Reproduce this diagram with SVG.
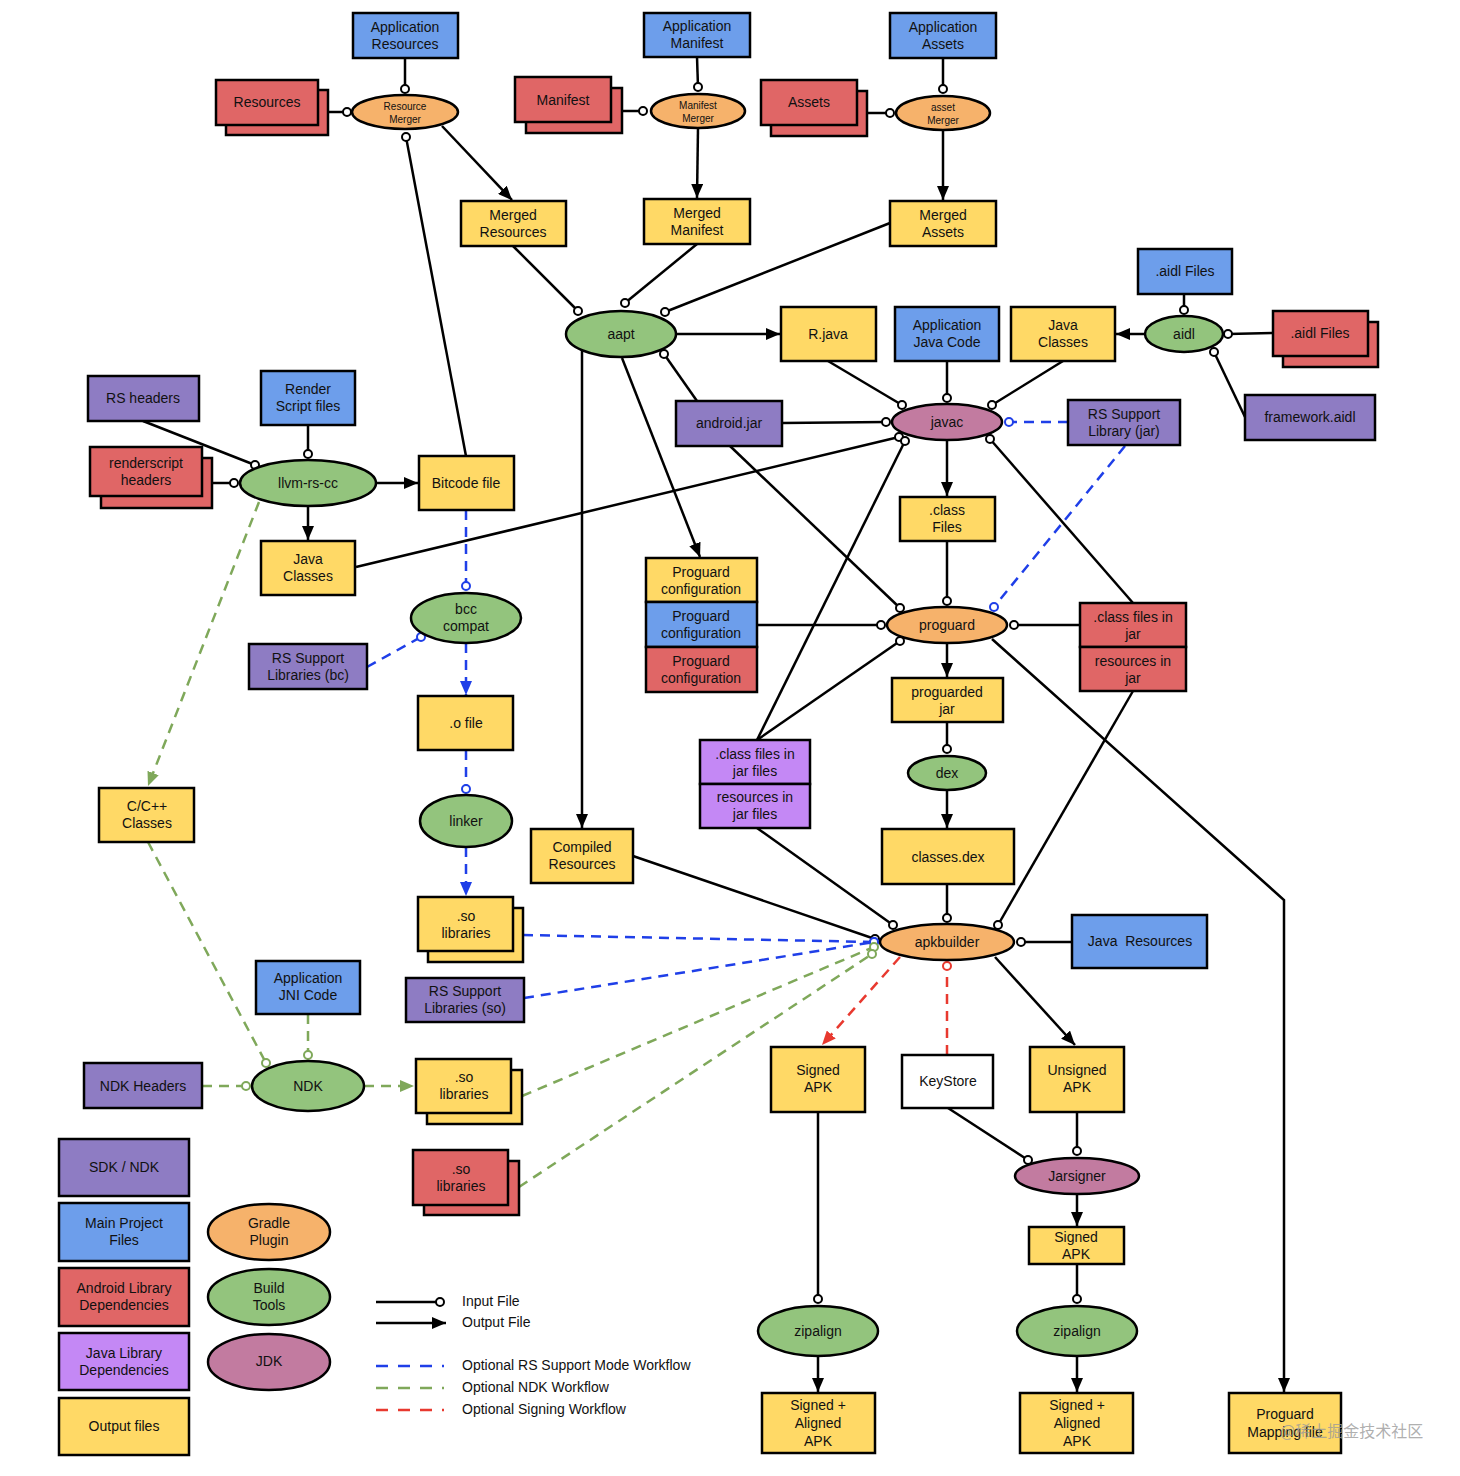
<svg xmlns="http://www.w3.org/2000/svg" width="1460" height="1476" viewBox="0 0 1460 1476">
<style>
.n{stroke:#000;stroke-width:2.5}
.blue{fill:#6d9eeb}.red{fill:#e06666}.yel{fill:#ffd966}.pur{fill:#8e7cc3}.lpur{fill:#c488f5}
.org{fill:#f6b26b}.grn{fill:#93c47d}.pink{fill:#c27ba0}.wht{fill:#fff}
text{font-family:"Liberation Sans",Arial,sans-serif;font-size:14px;text-anchor:middle;dominant-baseline:central;fill:#111}
.sm{font-size:10px}
.lg{text-anchor:start}
.c{fill:none;stroke:#000;stroke-width:2.5}
.db{fill:none;stroke:#1f3fe8;stroke-width:2.5;stroke-dasharray:10 7}
.dg{fill:none;stroke:#7fa85a;stroke-width:2.5;stroke-dasharray:10 7}
.dr{fill:none;stroke:#e8392f;stroke-width:2.5;stroke-dasharray:10 7}
.wm{font-family:"Noto Sans CJK SC",sans-serif;font-size:16px;text-anchor:start;fill:#9a9a9a;fill-opacity:0.8}
</style>
<defs>
<marker id="ak" viewBox="0 0 14 12" refX="14" refY="6" markerWidth="14" markerHeight="12" markerUnits="userSpaceOnUse" orient="auto"><path d="M0,0L14,6L0,12z" fill="#000"/></marker>
<marker id="ab" viewBox="0 0 14 12" refX="14" refY="6" markerWidth="14" markerHeight="12" markerUnits="userSpaceOnUse" orient="auto"><path d="M0,0L14,6L0,12z" fill="#1f3fe8"/></marker>
<marker id="ag" viewBox="0 0 14 12" refX="14" refY="6" markerWidth="14" markerHeight="12" markerUnits="userSpaceOnUse" orient="auto"><path d="M0,0L14,6L0,12z" fill="#7fa85a"/></marker>
<marker id="ar" viewBox="0 0 14 12" refX="14" refY="6" markerWidth="14" markerHeight="12" markerUnits="userSpaceOnUse" orient="auto"><path d="M0,0L14,6L0,12z" fill="#e8392f"/></marker>
<marker id="ok" viewBox="0 0 12 12" refX="6" refY="6" markerWidth="12" markerHeight="12" markerUnits="userSpaceOnUse"><circle cx="6" cy="6" r="4" fill="#fff" stroke="#000" stroke-width="2"/></marker>
<marker id="ob" viewBox="0 0 12 12" refX="6" refY="6" markerWidth="12" markerHeight="12" markerUnits="userSpaceOnUse"><circle cx="6" cy="6" r="4" fill="#fff" stroke="#1f3fe8" stroke-width="2"/></marker>
<marker id="og" viewBox="0 0 12 12" refX="6" refY="6" markerWidth="12" markerHeight="12" markerUnits="userSpaceOnUse"><circle cx="6" cy="6" r="4" fill="#fff" stroke="#7fa85a" stroke-width="2"/></marker>
<marker id="or" viewBox="0 0 12 12" refX="6" refY="6" markerWidth="12" markerHeight="12" markerUnits="userSpaceOnUse"><circle cx="6" cy="6" r="4" fill="#fff" stroke="#e8392f" stroke-width="2"/></marker>
</defs>
<rect width="1460" height="1476" fill="#fff"/>

<g id="connectors">
<g marker-end="url(#ok)" class="c">
<path d="M405,58V89"/><path d="M328,112H347"/><path d="M466,456L406,137"/>
<path d="M697,57L698,87"/><path d="M622,111H643"/>
<path d="M943,58V89"/><path d="M867,113H890"/>
<path d="M513,246L578,311"/><path d="M697,244L625,303"/><path d="M890,223L665,312"/><path d="M697,401L664,354"/>
<path d="M828,361L902,405"/><path d="M947,361V398"/><path d="M1063,361L992,405"/>
<path d="M1184,294V310"/><path d="M1273,333L1228,334"/><path d="M1245,417L1214,352"/>
<path d="M782,423L886,422"/><path d="M356,567L899,437"/><path d="M757,740L905,441"/>
<path d="M1133,603L990,439"/><path d="M947,541V601"/><path d="M730,446L900,608"/>
<path d="M757,625H881"/><path d="M757,740L900,641"/><path d="M1080,625L1014,625"/>
<path d="M947,722V749"/><path d="M947,884V918"/><path d="M1133,691L998,925"/>
<path d="M757,828L893,925"/><path d="M633,856L875,939"/><path d="M1072,942H1021"/>
<path d="M948,1108L1028,1160"/><path d="M1077,1112V1151"/><path d="M1077,1264V1299"/><path d="M818,1112V1299"/>
<path d="M143,421L255,465"/><path d="M308,425V454"/><path d="M212,483H234"/>
</g>
<g marker-end="url(#ak)" class="c">
<path d="M442,126L512,200"/><path d="M698,128L697,198"/><path d="M943,130V200"/>
<path d="M676,334H780"/><path d="M582,350V828"/><path d="M622,358L700,557"/>
<path d="M1145,334H1116"/><path d="M947,440V496"/><path d="M947,643V677"/>
<path d="M992,639L1284,900V1392"/><path d="M947,790V828"/>
<path d="M995,957L1075,1045"/><path d="M1077,1194V1226"/><path d="M1077,1356V1392"/><path d="M818,1356V1392"/>
<path d="M376,483H418"/><path d="M308,506V540"/>
</g>
<g class="db">
<path d="M1068,422H1009" marker-end="url(#ob)"/><path d="M1125,446L994,607" marker-end="url(#ob)"/>
<path d="M466,510V586" marker-end="url(#ob)"/><path d="M367,667L421,637" marker-end="url(#ob)"/>
<path d="M466,643V695" marker-end="url(#ab)"/><path d="M466,750V789" marker-end="url(#ob)"/>
<path d="M466,847V896" marker-end="url(#ab)"/>
<path d="M523,935L874,942" marker-end="url(#ob)"/><path d="M524,998L874,942" marker-end="url(#ob)"/>
</g>
<g class="dg">
<path d="M259,502L148,786" marker-end="url(#ag)"/><path d="M148,842L266,1063" marker-end="url(#og)"/>
<path d="M308,1014V1055" marker-end="url(#og)"/><path d="M202,1086H246" marker-end="url(#og)"/>
<path d="M364,1086H414" marker-end="url(#ag)"/>
<path d="M522,1096L874,947" marker-end="url(#og)"/><path d="M519,1187L872,954" marker-end="url(#og)"/>
</g>
<g class="dr">
<path d="M900,957L822,1045" marker-end="url(#ar)"/><path d="M947,1055V966" marker-end="url(#or)"/>
</g>
</g>

<g id="appResources"><rect class="n blue" x="353" y="13" width="105" height="45"/><text x="405" y="27">Application</text><text x="405" y="44">Resources</text></g>
<g id="resources"><rect class="n red" x="226" y="90" width="102" height="45"/><rect class="n red" x="216" y="80" width="102" height="45"/><text x="267" y="102">Resources</text></g>
<g id="resourceMerger"><ellipse class="n org" cx="405" cy="112" rx="53" ry="17"/><text class="sm" x="405" y="106">Resource</text><text class="sm" x="405" y="119">Merger</text></g>
<g id="appManifest"><rect class="n blue" x="644" y="13" width="106" height="44"/><text x="697" y="26">Application</text><text x="697" y="43">Manifest</text></g>
<g id="manifest"><rect class="n red" x="526" y="88" width="96" height="45"/><rect class="n red" x="515" y="77" width="96" height="45"/><text x="563" y="100">Manifest</text></g>
<g id="manifestMerger"><ellipse class="n org" cx="698" cy="111" rx="47" ry="17"/><text class="sm" x="698" y="105">Manifest</text><text class="sm" x="698" y="118">Merger</text></g>
<g id="appAssets"><rect class="n blue" x="890" y="13" width="106" height="45"/><text x="943" y="27">Application</text><text x="943" y="44">Assets</text></g>
<g id="assets"><rect class="n red" x="771" y="91" width="96" height="45"/><rect class="n red" x="761" y="80" width="96" height="45"/><text x="809" y="102">Assets</text></g>
<g id="assetMerger"><ellipse class="n org" cx="943" cy="113" rx="47" ry="17"/><text class="sm" x="943" y="107">asset</text><text class="sm" x="943" y="120">Merger</text></g>
<g id="mergedResources"><rect class="n yel" x="461" y="201" width="105" height="45"/><text x="513" y="215">Merged</text><text x="513" y="232">Resources</text></g>
<g id="mergedManifest"><rect class="n yel" x="644" y="199" width="106" height="45"/><text x="697" y="213">Merged</text><text x="697" y="230">Manifest</text></g>
<g id="mergedAssets"><rect class="n yel" x="890" y="201" width="106" height="45"/><text x="943" y="215">Merged</text><text x="943" y="232">Assets</text></g>
<g id="aapt"><ellipse class="n grn" cx="621" cy="334" rx="55" ry="23"/><text x="621" y="334">aapt</text></g>
<g id="rjava"><rect class="n yel" x="781" y="307" width="95" height="54"/><text x="828" y="334">R.java</text></g>
<g id="appJavaCode"><rect class="n blue" x="895" y="307" width="104" height="54"/><text x="947" y="325">Application</text><text x="947" y="342">Java Code</text></g>
<g id="javaClassesAidl"><rect class="n yel" x="1011" y="307" width="104" height="54"/><text x="1063" y="325">Java</text><text x="1063" y="342">Classes</text></g>
<g id="aidl"><ellipse class="n grn" cx="1184" cy="334" rx="39" ry="18"/><text x="1184" y="334">aidl</text></g>
<g id="aidlFilesMain"><rect class="n blue" x="1138" y="249" width="94" height="45"/><text x="1185" y="271">.aidl Files</text></g>
<g id="aidlFilesLib"><rect class="n red" x="1283" y="322" width="95" height="45"/><rect class="n red" x="1273" y="311" width="95" height="45"/><text x="1320" y="333">.aidl Files</text></g>
<g id="frameworkAidl"><rect class="n pur" x="1245" y="395" width="130" height="45"/><text x="1310" y="417">framework.aidl</text></g>
<g id="androidJar"><rect class="n pur" x="676" y="401" width="106" height="45"/><text x="729" y="423">android.jar</text></g>
<g id="javac"><ellipse class="n pink" cx="947" cy="422" rx="55" ry="18"/><text x="947" y="422">javac</text></g>
<g id="rsSupportJar"><rect class="n pur" x="1068" y="400" width="112" height="45"/><text x="1124" y="414">RS Support</text><text x="1124" y="431">Library (jar)</text></g>
<g id="classFiles"><rect class="n yel" x="900" y="497" width="95" height="44"/><text x="947" y="510">.class</text><text x="947" y="527">Files</text></g>
<g id="proguardConfig"><rect class="n yel" x="646" y="558" width="111" height="44"/><text x="701" y="572">Proguard</text><text x="701" y="589">configuration</text>
<rect class="n blue" x="646" y="602" width="111" height="45"/><text x="701" y="616">Proguard</text><text x="701" y="633">configuration</text>
<rect class="n red" x="646" y="647" width="111" height="45"/><text x="701" y="661">Proguard</text><text x="701" y="678">configuration</text></g>
<g id="proguard"><ellipse class="n org" cx="947" cy="625" rx="60" ry="18"/><text x="947" y="625">proguard</text></g>
<g id="classFilesInJar"><rect class="n red" x="1080" y="603" width="106" height="44"/><text x="1133" y="617">.class files in</text><text x="1133" y="634">jar</text>
<rect class="n red" x="1080" y="647" width="106" height="44"/><text x="1133" y="661">resources in</text><text x="1133" y="678">jar</text></g>
<g id="proguardedJar"><rect class="n yel" x="892" y="678" width="111" height="44"/><text x="947" y="692">proguarded</text><text x="947" y="709">jar</text></g>
<g id="dex"><ellipse class="n grn" cx="947" cy="773" rx="39" ry="17"/><text x="947" y="773">dex</text></g>
<g id="classesDex"><rect class="n yel" x="882" y="829" width="132" height="55"/><text x="948" y="857">classes.dex</text></g>
<g id="classFilesInJarFiles"><rect class="n lpur" x="700" y="740" width="110" height="44"/><text x="755" y="754">.class files in</text><text x="755" y="771">jar files</text>
<rect class="n lpur" x="700" y="784" width="110" height="44"/><text x="755" y="797">resources in</text><text x="755" y="814">jar files</text></g>
<g id="compiledResources"><rect class="n yel" x="531" y="829" width="102" height="54"/><text x="582" y="847">Compiled</text><text x="582" y="864">Resources</text></g>
<g id="apkbuilder"><ellipse class="n org" cx="947" cy="942" rx="67" ry="18"/><text x="947" y="942">apkbuilder</text></g>
<g id="javaResources"><rect class="n blue" x="1072" y="915" width="135" height="53"/><text x="1140" y="941" xml:space="preserve">Java  Resources</text></g>
<g id="signedApk"><rect class="n yel" x="771" y="1047" width="94" height="65"/><text x="818" y="1070">Signed</text><text x="818" y="1087">APK</text></g>
<g id="keyStore"><rect class="n wht" x="902" y="1055" width="91" height="53"/><text x="948" y="1081">KeyStore</text></g>
<g id="unsignedApk"><rect class="n yel" x="1030" y="1047" width="94" height="65"/><text x="1077" y="1070">Unsigned</text><text x="1077" y="1087">APK</text></g>
<g id="jarsigner"><ellipse class="n pink" cx="1077" cy="1176" rx="62" ry="18"/><text x="1077" y="1176">Jarsigner</text></g>
<g id="signedApk2"><rect class="n yel" x="1029" y="1227" width="95" height="37"/><text x="1076" y="1237">Signed</text><text x="1076" y="1254">APK</text></g>
<g id="zipalign1"><ellipse class="n grn" cx="818" cy="1331" rx="60" ry="25"/><text x="818" y="1331">zipalign</text></g>
<g id="zipalign2"><ellipse class="n grn" cx="1077" cy="1331" rx="60" ry="25"/><text x="1077" y="1331">zipalign</text></g>
<g id="signedAligned1"><rect class="n yel" x="762" y="1393" width="113" height="60"/><text x="818" y="1405">Signed +</text><text x="818" y="1423">Aligned</text><text x="818" y="1441">APK</text></g>
<g id="signedAligned2"><rect class="n yel" x="1020" y="1393" width="113" height="60"/><text x="1077" y="1405">Signed +</text><text x="1077" y="1423">Aligned</text><text x="1077" y="1441">APK</text></g>
<g id="proguardMapping"><rect class="n yel" x="1229" y="1393" width="112" height="60"/><text x="1285" y="1414">Proguard</text><text x="1285" y="1432">Mapping file</text></g>

<g id="rsHeaders"><rect class="n pur" x="88" y="376" width="111" height="45"/><text x="143" y="398">RS headers</text></g>
<g id="renderScriptFiles"><rect class="n blue" x="261" y="371" width="94" height="54"/><text x="308" y="389">Render</text><text x="308" y="406">Script files</text></g>
<g id="renderscriptHeaders"><rect class="n red" x="101" y="458" width="111" height="50"/><rect class="n red" x="90" y="447" width="112" height="49"/><text x="146" y="463">renderscript</text><text x="146" y="480">headers</text></g>
<g id="llvmRsCc"><ellipse class="n grn" cx="308" cy="483" rx="68" ry="23"/><text x="308" y="483">llvm-rs-cc</text></g>
<g id="bitcodeFile"><rect class="n yel" x="419" y="456" width="95" height="54"/><text x="466" y="483">Bitcode file</text></g>
<g id="javaClassesRs"><rect class="n yel" x="261" y="541" width="94" height="54"/><text x="308" y="559">Java</text><text x="308" y="576">Classes</text></g>
<g id="bccCompat"><ellipse class="n grn" cx="466" cy="618" rx="55" ry="25"/><text x="466" y="609">bcc</text><text x="466" y="626">compat</text></g>
<g id="rsSupportBc"><rect class="n pur" x="249" y="644" width="118" height="45"/><text x="308" y="658">RS Support</text><text x="308" y="675">Libraries (bc)</text></g>
<g id="oFile"><rect class="n yel" x="418" y="696" width="95" height="54"/><text x="466" y="723">.o file</text></g>
<g id="linker"><ellipse class="n grn" cx="466" cy="821" rx="46" ry="26"/><text x="466" y="821">linker</text></g>
<g id="soLibrariesRs"><rect class="n yel" x="428" y="908" width="95" height="54"/><rect class="n yel" x="418" y="897" width="95" height="54"/><text x="466" y="916">.so</text><text x="466" y="933">libraries</text></g>
<g id="rsSupportSo"><rect class="n pur" x="406" y="978" width="118" height="44"/><text x="465" y="991">RS Support</text><text x="465" y="1008">Libraries (so)</text></g>
<g id="cppClasses"><rect class="n yel" x="99" y="788" width="95" height="54"/><text x="147" y="806">C/C++</text><text x="147" y="823">Classes</text></g>
<g id="jniCode"><rect class="n blue" x="256" y="961" width="104" height="53"/><text x="308" y="978">Application</text><text x="308" y="995">JNI Code</text></g>
<g id="ndkHeaders"><rect class="n pur" x="84" y="1063" width="118" height="45"/><text x="143" y="1086">NDK Headers</text></g>
<g id="ndk"><ellipse class="n grn" cx="308" cy="1086" rx="56" ry="25"/><text x="308" y="1086">NDK</text></g>
<g id="soLibrariesNdk"><rect class="n yel" x="427" y="1070" width="95" height="54"/><rect class="n yel" x="416" y="1059" width="95" height="54"/><text x="464" y="1077">.so</text><text x="464" y="1094">libraries</text></g>
<g id="soLibrariesLib"><rect class="n red" x="424" y="1161" width="95" height="54"/><rect class="n red" x="413" y="1150" width="95" height="55"/><text x="461" y="1169">.so</text><text x="461" y="1186">libraries</text></g>

<g id="legend">
<rect class="n pur" x="59" y="1139" width="130" height="57"/><text x="124" y="1167">SDK / NDK</text>
<rect class="n blue" x="59" y="1203" width="130" height="58"/><text x="124" y="1223">Main Project</text><text x="124" y="1240">Files</text>
<rect class="n red" x="59" y="1268" width="130" height="58"/><text x="124" y="1288">Android Library</text><text x="124" y="1305">Dependencies</text>
<rect class="n lpur" x="59" y="1333" width="130" height="57"/><text x="124" y="1353">Java Library</text><text x="124" y="1370">Dependencies</text>
<rect class="n yel" x="59" y="1398" width="130" height="57"/><text x="124" y="1426">Output files</text>
<ellipse class="n org" cx="269" cy="1232" rx="61" ry="28"/><text x="269" y="1223">Gradle</text><text x="269" y="1240">Plugin</text>
<ellipse class="n grn" cx="269" cy="1297" rx="61" ry="28"/><text x="269" y="1288">Build</text><text x="269" y="1305">Tools</text>
<ellipse class="n pink" cx="269" cy="1362" rx="61" ry="28"/><text x="269" y="1361">JDK</text>
<path class="c" d="M376,1302H440" marker-end="url(#ok)"/>
<path class="c" d="M376,1323H446" marker-end="url(#ak)"/>
<path class="db" style="stroke-dasharray:12 10" d="M376,1366H444"/>
<path class="dg" style="stroke-dasharray:12 10" d="M376,1388H444"/>
<path class="dr" style="stroke-dasharray:12 10" d="M376,1410H444"/>
<text class="lg" x="462" y="1301">Input File</text>
<text class="lg" x="462" y="1322">Output File</text>
<text class="lg" x="462" y="1365">Optional RS Support Mode Workflow</text>
<text class="lg" x="462" y="1387">Optional NDK Workflow</text>
<text class="lg" x="462" y="1409">Optional Signing Workflow</text>
</g>
<text class="wm" x="1280" y="1430">@稀土掘金技术社区</text>
</svg>
